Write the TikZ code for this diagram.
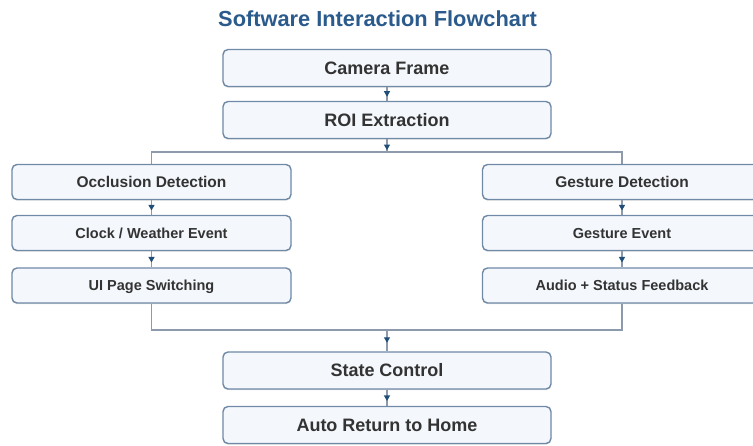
\documentclass[tikz,border=0pt]{standalone}
\usepackage{fontspec}
\setmainfont{Liberation Sans}
\usetikzlibrary{arrows.meta,decorations.markings,shadows}
\definecolor{boxdraw}{HTML}{6F89A6}
\definecolor{boxfill}{HTML}{F4F8FC}
\definecolor{linecol}{HTML}{8C9AAB}
\definecolor{arrowcol}{HTML}{1F4E79}
\definecolor{textcol}{HTML}{333333}
\definecolor{titlecol}{HTML}{2B5A8C}
\tikzset{
  basebox/.style={draw=boxdraw, fill=boxfill, line width=1.4pt, rounded corners=5pt,
    inner sep=0pt, text=textcol, text depth=0pt,
    drop shadow={shadow xshift=0pt, shadow yshift=-1.2pt, opacity=0.25, fill=gray}},
  mainbox/.style={basebox, minimum width=328pt, minimum height=37pt, text height=12.9pt,
    font=\bfseries\fontsize{18}{20}\selectfont},
  sidebox/.style={basebox, minimum width=279pt, minimum height=35pt, text height=10.4pt,
    font=\bfseries\fontsize{14.5}{16}\selectfont},
  detbox/.style={sidebox, text height=11.1pt, font=\bfseries\fontsize{15.5}{17}\selectfont},
  titletext/.style={font=\bfseries\fontsize{21.8}{24}\selectfont, text=titlecol, inner sep=0pt,
    text height=15.6pt, text depth=0pt},
  conn/.style={draw=linecol, line width=1.2pt},
  midarrow/.style={postaction={decorate}, decoration={markings,
    mark=at position #1 with {\arrow[arrowcol]{Triangle[length=5.5pt,width=6pt]}}}},
  midarrow/.default=0.7
}
\begin{document}
\begin{tikzpicture}[x=1pt,y=-1pt]
\useasboundingbox (0,0) rectangle (753,445);
\node[titletext] (title) at (377.5,18.5) {Software Interaction Flowchart};
\node[mainbox] (cam) at (387,68) {Camera Frame};
\node[mainbox] (roi) at (387,120) {ROI Extraction};
\node[detbox] (occ) at (151.5,182) {Occlusion Detection};
\node[sidebox] (clk) at (151.5,233) {Clock / Weather Event};
\node[sidebox] (ui) at (151.5,285.5) {UI Page Switching};
\node[detbox] (ges) at (622,182) {Gesture Detection};
\node[sidebox] (gev) at (622,233) {Gesture Event};
\node[sidebox] (aud) at (622,285.5) {Audio + Status Feedback};
\node[mainbox] (state) at (387,370.5) {State Control};
\node[mainbox] (home) at (387,425) {Auto Return to Home};
\coordinate (split) at (387,152);
\coordinate (merge) at (387,330);
\draw[conn, midarrow] (cam) -- (roi);
\draw[conn, midarrow=0.85] (roi) -- (split);
\draw[conn] (occ.north) |- (split) -| (ges.north);
\draw[conn, midarrow] (occ) -- (clk);
\draw[conn, midarrow] (clk) -- (ui);
\draw[conn, midarrow] (ges) -- (gev);
\draw[conn, midarrow] (gev) -- (aud);
\draw[conn] (ui.south) |- (merge) -| (aud.south);
\draw[conn, midarrow=0.6] (merge) -- (state);
\draw[conn, midarrow] (state) -- (home);
\end{tikzpicture}
\end{document}
